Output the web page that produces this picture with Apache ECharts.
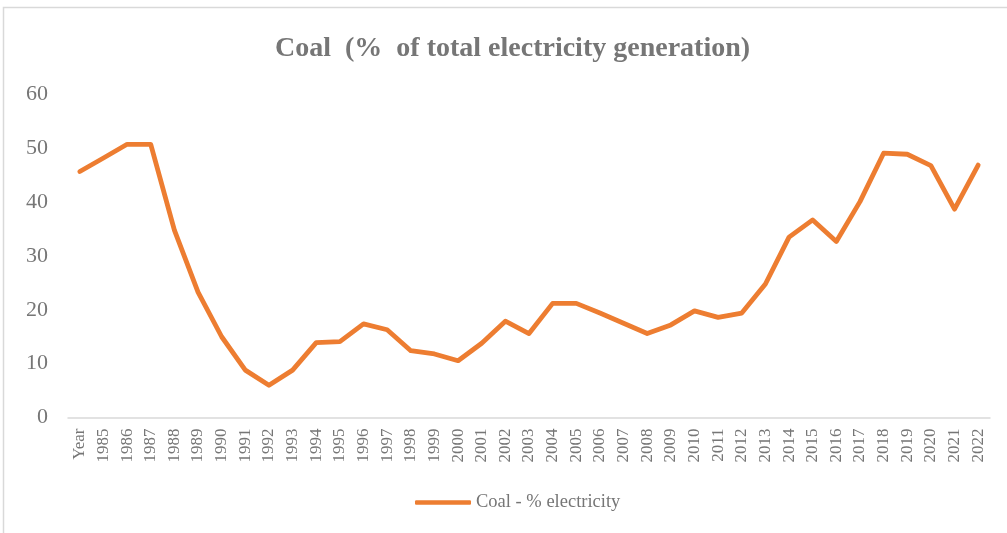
<!DOCTYPE html>
<html>
<head>
<meta charset="utf-8">
<script src="https://cdn.jsdelivr.net/npm/echarts@6/dist/echarts.min.js"></script>
<style>
html,body{margin:0;padding:0;background:#fff;}
#chart{width:1007px;height:533px;}
</style>
</head>
<body>
<div id="chart"></div>
<script>
const categories = ['Year','1985','1986','1987','1988','1989','1990','1991','1992','1993','1994','1995','1996','1997','1998','1999','2000','2001','2002','2003','2004','2005','2006','2007','2008','2009','2010','2011','2012','2013','2014','2015','2016','2017','2018','2019','2020','2021','2022'];
const coalValues = [45.7,48.2,50.75,50.75,34.8,23.3,15.0,8.8,6.0,8.8,13.9,14.1,17.4,16.3,12.4,11.8,10.55,13.8,17.9,15.6,21.2,21.2,19.4,17.5,15.6,17.2,19.8,18.6,19.4,24.8,33.5,36.7,32.7,40.1,49.1,48.9,46.8,38.7,46.9];
const yTicks = [0,10,20,30,40,50,60];
const titleText = 'Coal  (%  of total electricity generation)';
const seriesName = 'Coal - % electricity';

const chart = echarts.init(document.getElementById('chart'), null, {renderer:'canvas'});
const serif = '"Liberation Serif", "DejaVu Serif", serif';
chart.setOption({
  backgroundColor:'#ffffff',
  animation:false,
  graphic:[{
    type:'rect', silent:true, z:-1,
    shape:{x:3.5,y:7.5,width:1100,height:600},
    style:{fill:'none',stroke:'#d9d9d9',lineWidth:1.5}
  }],
  title:{
    text:titleText, left:270, top:30,
    textStyle:{fontFamily:serif,fontSize:28,fontWeight:'bold',color:'#767676'}
  },
  legend:{
    data:[seriesName], top:488, left:410,
    itemWidth:56, itemHeight:4.5, itemGap:10,
    icon:'roundRect',
    textStyle:{fontFamily:serif,fontSize:18.5,color:'#767676'}
  },
  grid:{left:68,right:17,top:94.5,bottom:115.5,containLabel:false},
  xAxis:{
    type:'category', data:categories, boundaryGap:true,
    axisLine:{show:true,lineStyle:{color:'#d9d9d9',width:1.5}},
    axisTick:{show:false},
    axisLabel:{rotate:90,interval:0,margin:11,fontFamily:serif,fontSize:17,color:'#767676'}
  },
  yAxis:{
    type:'value', min:yTicks[0], max:yTicks[yTicks.length-1], interval:10,
    axisLine:{show:false}, axisTick:{show:false}, splitLine:{show:false},
    axisLabel:{margin:20,fontFamily:serif,fontSize:22,color:'#767676'}
  },
  series:[{
    name:seriesName, type:'line', data:coalValues,
    symbol:'none', smooth:false,
    lineStyle:{color:'#ED7D31',width:4.8,cap:'round',join:'round'},
    itemStyle:{color:'#ED7D31'}
  }]
});
</script>
</body>
</html>
